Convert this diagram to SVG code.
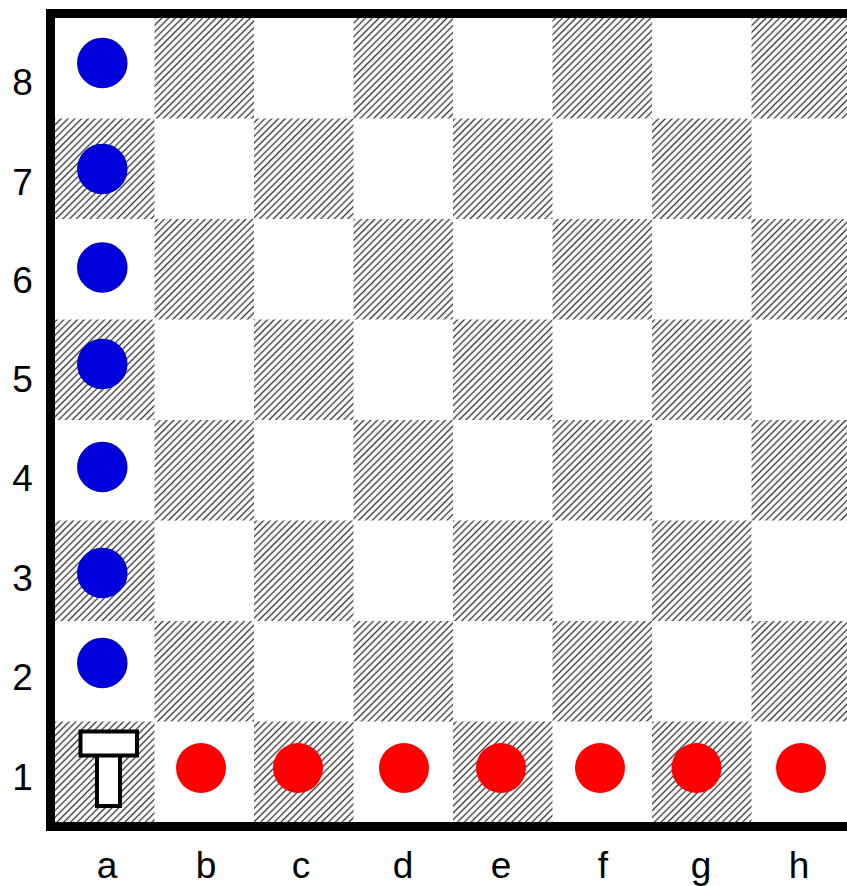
<svg xmlns="http://www.w3.org/2000/svg" width="847" height="886" viewBox="0 0 847 886">
<style>
.lbl{font-family:"Liberation Sans",Arial,sans-serif;font-size:37px;fill:#000;text-anchor:middle}
.dark{fill:url(#hatch)}
.blue{fill:#0000dd;stroke:#0000c4;stroke-width:1.5}
.red{fill:#ff0000}
.tw{fill:#fff;stroke:#000;stroke-width:4}
</style>
<defs>
<pattern id="hatch" patternUnits="userSpaceOnUse" width="4.8" height="10" patternTransform="rotate(45)">
<line x1="2.4" y1="0" x2="2.4" y2="10" stroke="#333" stroke-width="1.35"/>
</pattern>
</defs>
<rect width="847" height="886" fill="#fff"/>
<g id="squares">
<rect class="dark" x="154.5" y="18" width="99.5" height="100.5"/>
<rect class="dark" x="353.5" y="18" width="99.5" height="100.5"/>
<rect class="dark" x="552.5" y="18" width="99.5" height="100.5"/>
<rect class="dark" x="751.5" y="18" width="99.5" height="100.5"/>
<rect class="dark" x="55" y="118.5" width="99.5" height="100.5"/>
<rect class="dark" x="254" y="118.5" width="99.5" height="100.5"/>
<rect class="dark" x="453" y="118.5" width="99.5" height="100.5"/>
<rect class="dark" x="652" y="118.5" width="99.5" height="100.5"/>
<rect class="dark" x="154.5" y="219" width="99.5" height="100.5"/>
<rect class="dark" x="353.5" y="219" width="99.5" height="100.5"/>
<rect class="dark" x="552.5" y="219" width="99.5" height="100.5"/>
<rect class="dark" x="751.5" y="219" width="99.5" height="100.5"/>
<rect class="dark" x="55" y="319.5" width="99.5" height="100.5"/>
<rect class="dark" x="254" y="319.5" width="99.5" height="100.5"/>
<rect class="dark" x="453" y="319.5" width="99.5" height="100.5"/>
<rect class="dark" x="652" y="319.5" width="99.5" height="100.5"/>
<rect class="dark" x="154.5" y="420" width="99.5" height="100.5"/>
<rect class="dark" x="353.5" y="420" width="99.5" height="100.5"/>
<rect class="dark" x="552.5" y="420" width="99.5" height="100.5"/>
<rect class="dark" x="751.5" y="420" width="99.5" height="100.5"/>
<rect class="dark" x="55" y="520.5" width="99.5" height="100.5"/>
<rect class="dark" x="254" y="520.5" width="99.5" height="100.5"/>
<rect class="dark" x="453" y="520.5" width="99.5" height="100.5"/>
<rect class="dark" x="652" y="520.5" width="99.5" height="100.5"/>
<rect class="dark" x="154.5" y="621" width="99.5" height="100.5"/>
<rect class="dark" x="353.5" y="621" width="99.5" height="100.5"/>
<rect class="dark" x="552.5" y="621" width="99.5" height="100.5"/>
<rect class="dark" x="751.5" y="621" width="99.5" height="100.5"/>
<rect class="dark" x="55" y="721.5" width="99.5" height="100.5"/>
<rect class="dark" x="254" y="721.5" width="99.5" height="100.5"/>
<rect class="dark" x="453" y="721.5" width="99.5" height="100.5"/>
<rect class="dark" x="652" y="721.5" width="99.5" height="100.5"/>
</g>
<g id="border">
<rect x="50.5" y="13.5" width="805" height="813" fill="none" stroke="#000" stroke-width="9"/>
</g>
<g id="blue-pieces">
<circle class="blue" cx="102.3" cy="63" r="24.5"/>
<circle class="blue" cx="102.3" cy="169" r="24.5"/>
<circle class="blue" cx="102.3" cy="267.5" r="24.5"/>
<circle class="blue" cx="102.3" cy="364" r="24.5"/>
<circle class="blue" cx="102.3" cy="467" r="24.5"/>
<circle class="blue" cx="102.3" cy="573" r="24.5"/>
<circle class="blue" cx="102.3" cy="663" r="24.5"/>
</g>
<g id="red-pieces">
<circle class="red" cx="201" cy="768" r="25"/>
<circle class="red" cx="298" cy="768" r="25"/>
<circle class="red" cx="404" cy="768" r="25"/>
<circle class="red" cx="501" cy="768" r="25"/>
<circle class="red" cx="600" cy="768" r="25"/>
<circle class="red" cx="696.5" cy="768" r="25"/>
<circle class="red" cx="801" cy="768" r="25"/>
</g>
<g id="tower">
<rect class="tw" x="97" y="755" width="23" height="51"/>
<rect class="tw" x="80.5" y="731.5" width="56.5" height="24"/>
</g>
<g id="rank-labels">
<text class="lbl" x="22.5" y="95">8</text>
<text class="lbl" x="22.5" y="195">7</text>
<text class="lbl" x="22.5" y="293">6</text>
<text class="lbl" x="22.5" y="392">5</text>
<text class="lbl" x="22.5" y="491">4</text>
<text class="lbl" x="22.5" y="591">3</text>
<text class="lbl" x="22.5" y="690">2</text>
<text class="lbl" x="22.5" y="790">1</text>
</g>
<g id="file-labels">
<text class="lbl" x="107" y="878">a</text>
<text class="lbl" x="206" y="878">b</text>
<text class="lbl" x="301" y="878">c</text>
<text class="lbl" x="403" y="878">d</text>
<text class="lbl" x="501" y="878">e</text>
<text class="lbl" x="603" y="878">f</text>
<text class="lbl" x="701" y="878">g</text>
<text class="lbl" x="799" y="878">h</text>
</g>
</svg>
